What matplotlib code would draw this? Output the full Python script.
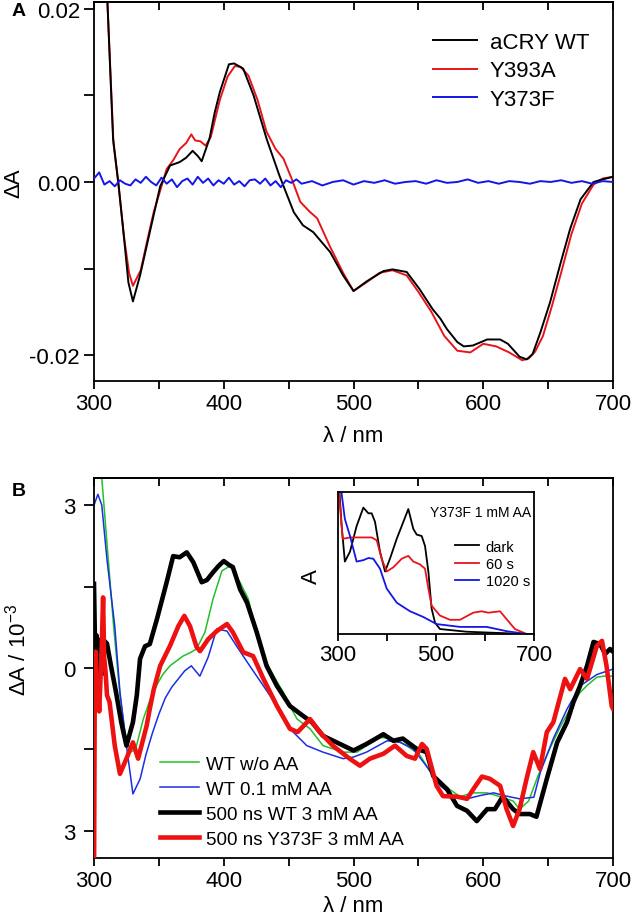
import numpy as np
import matplotlib
matplotlib.use("Agg")
import matplotlib.pyplot as plt

plt.rcParams["font.family"] = ["Liberation Sans", "DejaVu Sans"]
plt.rcParams["mathtext.fontset"] = "custom"
plt.rcParams["mathtext.rm"] = "Liberation Sans"

# ---------------- panel A data ----------------
a_wt_nm = [300, 305, 310, 314.7, 318.7, 322.7, 326.5, 330, 335.5, 340.6, 343, 351, 358.6, 366, 371,
           376, 380, 383, 389, 393, 397, 404, 408, 415, 423, 433, 443, 454, 461, 469, 482, 492, 500,
           510, 523, 530, 541, 551, 561, 567, 572, 580, 585, 592, 603, 613, 619, 628, 633.5, 638, 644,
           651.5, 659, 667, 675, 685, 692, 700]
a_wt_val = [0.05, 0.036, 0.022, 0.005, 0.0, -0.0058, -0.0116, -0.0138, -0.0108, -0.0074, -0.0058,
            -0.0005, 0.0019, 0.0023, 0.0028, 0.0036, 0.003, 0.0024, 0.005, 0.008, 0.0104, 0.0136,
            0.0137, 0.0131, 0.0100, 0.005, 0.0007, -0.0035, -0.005, -0.0058, -0.0081, -0.0108,
            -0.0126, -0.0115, -0.0103, -0.0101, -0.0104, -0.0124, -0.0147, -0.0158, -0.017, -0.0185,
            -0.019, -0.0189, -0.0182, -0.0182, -0.0187, -0.0202, -0.0205, -0.0199, -0.0174, -0.0139,
            -0.0097, -0.0054, -0.002, 0.0, 0.0003, 0.0006]

a_y393a_nm = [300, 305, 310, 315, 319, 323, 327, 330, 336, 341, 346, 352, 356, 361, 366, 371, 375,
              378, 382, 386, 390, 397, 403, 408.6, 413, 419, 426, 433, 440, 446, 452, 459, 466, 472,
              482, 492, 500, 510, 520, 530, 541, 550, 560, 570, 580, 590, 600, 610, 620, 630, 635,
              640, 646, 653, 660, 668, 676, 685, 692, 700]
a_y393a_val = [0.05, 0.036, 0.022, 0.0045, -0.0005, -0.0062, -0.0105, -0.012, -0.0102, -0.0068,
               -0.0035, -0.0005, 0.0015, 0.0025, 0.0038, 0.0045, 0.0055, 0.0048, 0.0047, 0.0042,
               0.0052, 0.0095, 0.0122, 0.0134, 0.0133, 0.0123, 0.0095, 0.0058, 0.0038, 0.0027,
               0.0005, -0.0023, -0.0034, -0.0042, -0.0075, -0.0105, -0.0126, -0.0116, -0.0105,
               -0.0102, -0.0108, -0.0127, -0.015, -0.0178, -0.0195, -0.0197, -0.0187, -0.019,
               -0.0197, -0.0206, -0.0204, -0.0196, -0.0178, -0.0143, -0.0105, -0.006, -0.0025,
               -0.0003, 0.0004, 0.0006]

a_y373f_nm = list(range(300, 460, 4)) + list(range(460, 701, 8))
a_y373f_val = [0.0004, 0.0011, -0.0003, 0.0001, -0.0005, 0.0002, -0.0002, -0.0004, 0.0003, -0.0001,
               0.0006, 0.0000, -0.0004, 0.0005, -0.0002, 0.0003, -0.0006, 0.0001, 0.0004, -0.0003,
               0.0006, -0.0001, 0.0004, -0.0004, 0.0002, -0.0002, 0.0005, -0.0003, 0.0001, -0.0005,
               0.0002, 0.0003, -0.0002, 0.0004, -0.0004, 0.0001, -0.0006, 0.0002, -0.0001, 0.0003,
               -0.0002, 0.0001, -0.0004, 0.0000, 0.0002, -0.0003, 0.0001, -0.0001, 0.0002, -0.0002,
               0.0000, 0.0001, -0.0002, 0.0002, -0.0001, 0.0000, 0.0003, -0.0001, 0.0001, -0.0002,
               0.0001, 0.0000, -0.0002, 0.0001, 0.0000, 0.0002, -0.0001, 0.0001, -0.0002, 0.0001,
               0.0000]

# ---------------- panel B data ----------------
b_wo_nm = [300, 304, 306, 310, 315, 320, 324, 328, 332, 338, 343, 348, 353, 358.5, 363, 368.6, 374,
           379, 385.5, 391.7, 398.6, 404.8, 412.5, 419, 425.4, 430, 435.6, 441, 446, 451, 456.5,
           466.5, 476.5, 492, 502.6, 512, 520.6, 530.7, 541, 551, 561.5, 572, 582, 592, 603, 613,
           623, 628, 635, 642, 649, 659, 667, 674.6, 681, 687.6, 693, 700]
b_wo_val = [6.0, 4.3, 3.5, 2.3, 0.8, -0.5, -1.2, -1.55, -1.5, -0.94, -0.6, -0.33, -0.12, 0.04, 0.12,
            0.22, 0.28, 0.35, 0.66, 1.27, 1.79, 1.88, 1.58, 1.27, 0.59, 0.25, -0.02, -0.25, -0.45,
            -0.7, -0.94, -1.12, -1.43, -1.55, -1.55, -1.4, -1.28, -1.3, -1.43, -1.6, -2.0, -2.2,
            -2.37, -2.3, -2.3, -2.37, -2.45, -2.6, -2.45, -2.0, -1.6, -1.1, -0.75, -0.45, -0.3,
            -0.17, -0.15, -0.15]

b_01_nm = [300, 303, 306, 310, 316, 320, 325, 330, 335.6, 340, 345, 350, 355, 360, 365, 370, 375,
           381.6, 388, 394.6, 402.5, 410, 420, 430.6, 441, 451, 464, 476.5, 492, 500, 510, 526, 536,
           546, 556, 567, 577, 587.5, 597.5, 608, 618, 628, 639, 644, 654, 664.5, 674.6, 687.6, 700]
b_01_val = [3.0, 3.2, 3.0, 2.0, 0.77, -0.44, -1.43, -2.32, -2.04, -1.6, -1.2, -0.85, -0.55, -0.35,
            -0.2, -0.05, 0.04, -0.15, 0.2, 0.72, 0.68, 0.4, 0.04, -0.33, -0.7, -1.12, -1.43, -1.55,
            -1.67, -1.64, -1.55, -1.34, -1.37, -1.49, -1.8, -2.17, -2.36, -2.41, -2.35, -2.3, -2.36,
            -2.41, -2.38, -1.92, -1.3, -0.76, -0.33, -0.12, -0.02]

b_wt3_nm = [300, 301, 302, 303, 304, 305, 306, 307, 308, 310, 313, 317, 321, 325, 330, 333, 335.5,
            339.3, 343, 348.5, 356, 361, 366, 371.5, 376.5, 383, 387, 392, 396, 400, 404, 407,
            412.6, 418, 425.4, 433, 441, 451, 461, 468, 476.5, 489.6, 500, 510, 523, 530.7, 538,
            548.7, 556.4, 561.5, 572, 579.8, 587.5, 595, 603, 609, 615, 623, 628, 636, 641, 649,
            657, 664.5, 669.5, 674.6, 680, 685, 690, 694, 697.7, 700]
b_wt3_val = [1.55, 0.1, 0.6, -0.3, 0.5, 0.1, 0.55, -0.1, 0.5, 0.45, 0.05, -0.45, -1.0, -1.43, -1.0,
             -0.5, 0.17, 0.4, 0.44, 0.9, 1.58, 2.06, 2.04, 2.13, 1.95, 1.58, 1.62, 1.77, 1.88, 1.97,
             1.9, 1.86, 1.45, 1.2, 0.66, 0.04, -0.33, -0.7, -0.88, -1.0, -1.25, -1.4, -1.52, -1.4,
             -1.22, -1.34, -1.3, -1.49, -1.55, -1.99, -2.23, -2.54, -2.63, -2.82, -2.6, -2.6, -2.37,
             -2.6, -2.69, -2.69, -2.74, -2.04, -1.37, -1.0, -0.63, -0.33, 0.04, 0.48, 0.44, 0.26,
             0.35, 0.3]

b_y373f_nm = [300, 300.6, 301.3, 302, 303, 304, 305, 306, 307, 307.8, 309, 310, 312, 316, 320, 325,
              330, 334, 340.6, 343, 346, 351, 358.6, 365, 369.6, 374, 379, 381.7, 388, 394.6, 402.5,
              407, 415, 422.6, 430.6, 441, 451, 457, 466.5, 474, 484, 497, 505, 512.7, 523, 532,
              541, 547.4, 552.8, 556.4, 564, 569, 579.8, 587.5, 592.4, 599, 605, 613, 618, 623, 628,
              633.4, 638.5, 643.7, 649, 654, 663, 667, 674.6, 680, 687.6, 691.5, 695, 699, 700]
b_y373f_val = [-4.0, -0.2, 0.3, -0.6, -0.3, -0.8, -0.2, 0.4, 1.3, 0.2, -0.1, -0.5, -0.63, -1.43,
               -1.95, -1.67, -1.37, -1.67, -1.06, -0.75, -0.4, 0.04, 0.41, 0.77, 0.96, 0.77, 0.39,
               0.31, 0.53, 0.68, 0.81, 0.66, 0.29, 0.22, -0.2, -0.7, -1.12, -1.18, -0.94, -1.18,
               -1.43, -1.67, -1.8, -1.67, -1.58, -1.43, -1.62, -1.67, -1.4, -1.49, -2.17, -2.36,
               -2.37, -2.41, -2.23, -2.0, -2.04, -2.17, -2.6, -2.91, -2.6, -2.04, -1.55, -1.86, -1.18,
               -1.0, -0.2, -0.39, -0.02, -0.2, 0.41, 0.5, 0.04, -0.7, -0.75]

# ---------------- inset data ----------------
i_dark_nm = [300, 303, 307.5, 314, 324.5, 338, 351.7, 362, 368.7, 375.5, 385.7, 396, 406, 419.8,
             430, 443.5, 453.7, 460.6, 470.8, 477.6, 484.4, 491, 498, 508, 562.7, 630.6, 685, 700]
i_dark_val = [1.3, 1.0, 0.76, 0.51, 0.58, 0.76, 0.89, 0.85, 0.85, 0.79, 0.58, 0.44, 0.53, 0.67,
              0.76, 0.88, 0.74, 0.70, 0.69, 0.62, 0.44, 0.18, 0.08, 0.035, 0.016, 0.007, 0.0, 0.0]

i_60_nm = [300, 303, 309.5, 324.5, 351.7, 368.7, 379, 389, 399.4, 413, 430, 443.5, 453.7, 467.3,
           477.6, 484.4, 491, 508, 528.6, 549, 576, 593, 606.8, 630.6, 644, 661, 685, 700]
i_60_val = [1.3, 0.95, 0.67, 0.68, 0.68, 0.68, 0.66, 0.53, 0.44, 0.47, 0.53, 0.55, 0.51, 0.49,
            0.46, 0.32, 0.2, 0.13, 0.10, 0.10, 0.15, 0.16, 0.15, 0.16, 0.105, 0.035, 0.0, 0.0]

i_1020_nm = [300, 307, 314, 324.5, 338, 351.7, 362, 372, 385.7, 399.4, 420, 447, 474, 501, 549,
             603.5, 644, 685, 700]
i_1020_val = [1.3, 1.0, 0.81, 0.69, 0.51, 0.52, 0.535, 0.53, 0.46, 0.32, 0.22, 0.16, 0.12, 0.07,
              0.05, 0.05, 0.02, 0.0, 0.0]

x_ticks = list(range(300, 701, 50))
x_labels = [str(v) if v % 100 == 0 else "" for v in x_ticks]

fig = plt.figure(figsize=(6.33, 9.2), dpi=100)
W, H = 633, 920
axA = fig.add_axes([94 / W, 1 - 382 / H, 519 / W, 379 / H])
axB = fig.add_axes([94 / W, 1 - 859 / H, 519 / W, 380 / H])


def style_main(ax, ypad, xlab_y):
    for s in ax.spines.values():
        s.set_linewidth(1.3)
    ax.set_xlim(300, 700)
    ax.set_xticks(x_ticks)
    ax.set_xticklabels(x_labels)
    ax.tick_params(axis="x", direction="out", length=6, width=1.3, labelsize=16, pad=3, top=False)
    ax.tick_params(axis="y", direction="out", length=7, width=1.3, labelsize=16, pad=ypad, right=False)
    top = ax.secondary_xaxis("top")
    top.set_xticks(x_ticks)
    top.tick_params(direction="in", length=6, width=1.3, labeltop=False)
    top.spines["top"].set_linewidth(1.3)
    ax.set_xlabel("λ / nm", fontsize=16)
    ax.xaxis.set_label_coords(0.5, xlab_y)


# panel A
axA.plot(a_wt_nm, a_wt_val, color="black", lw=1.4, label="aCRY WT", zorder=3)
axA.plot(a_y393a_nm, a_y393a_val, color="#e8141c", lw=1.4, label="Y393A", zorder=2)
axA.plot(a_y373f_nm, a_y373f_val, color="#1515e8", lw=1.4, label="Y373F", zorder=4)
style_main(axA, 3, -0.115)
axA.set_ylim(-0.0230, 0.0208)
axA.set_yticks([-0.02, -0.01, 0.0, 0.01, 0.02])
axA.set_yticklabels(["-0.02", "", "0.00", "", "0.02"])
axA.set_ylabel("ΔA", fontsize=16)
axA.yaxis.set_label_coords(-0.135, 0.525)
axA.legend(loc="upper left", bbox_to_anchor=(0.653, 0.922), frameon=False, fontsize=16,
           handlelength=2.0, handletextpad=0.55, labelspacing=0.35, borderpad=0, borderaxespad=0)
fig.text(12 / W, 1 - 12 / H, "A", fontsize=14, fontweight="bold", ha="left", va="center")

# panel B
axB.plot(b_wo_nm, b_wo_val, color="#22c02a", lw=1.1, label="WT w/o AA", zorder=2)
axB.plot(b_01_nm, b_01_val, color="#1a2fe0", lw=1.1, label="WT 0.1 mM AA", zorder=2)
axB.plot(b_wt3_nm, b_wt3_val, color="black", lw=3.3, label="500 ns WT 3 mM AA", zorder=3)
axB.plot(b_y373f_nm, b_y373f_val, color="#ee1111", lw=3.3, label="500 ns Y373F 3 mM AA", zorder=3)
style_main(axB, 6, -0.097)
axB.set_ylim(-3.5, 3.5)
axB.set_yticks([-3, -1.5, 0, 1.5, 3])
axB.set_yticklabels(["3", "", "0", "", "3"])
axB.set_ylabel("ΔA / 10$^{\\mathregular{-3}}$", fontsize=16)
axB.yaxis.set_label_coords(-0.122, 0.55)
axB.legend(loc="upper left", bbox_to_anchor=(0.127, 0.27), frameon=False, fontsize=13.5,
           handlelength=2.1, handletextpad=0.35, labelspacing=0.42, borderpad=0, borderaxespad=0)
fig.text(12 / W, 1 - 492 / H, "B", fontsize=14, fontweight="bold", ha="left", va="center")

# inset
axI = fig.add_axes([338 / W, 1 - 635 / H, 196 / W, 142 / H])
axI.plot(i_dark_nm, i_dark_val, color="black", lw=1.3, label="dark")
axI.plot(i_60_nm, i_60_val, color="#e8141c", lw=1.3, label="60 s")
axI.plot(i_1020_nm, i_1020_val, color="#1515e8", lw=1.3, label="1020 s")
for s in axI.spines.values():
    s.set_linewidth(1.3)
axI.set_xlim(300, 700)
axI.set_ylim(0, 1)
axI.set_xticks([300, 400, 500, 600, 700])
axI.set_xticklabels(["300", "", "500", "", "700"])
axI.set_yticks([])
axI.tick_params(axis="x", direction="out", length=5, width=1.3, labelsize=16, pad=2)
axI.set_ylabel("A", fontsize=16)
axI.yaxis.set_label_coords(-0.08, 0.41)
axI.text(0.985, 0.86, "Y373F 1 mM AA", transform=axI.transAxes, fontsize=10, ha="right", va="center")
axI.legend(loc="upper left", bbox_to_anchor=(0.597, 0.665), frameon=False, fontsize=10.5,
           handlelength=1.65, handletextpad=0.45, labelspacing=0.22, borderpad=0, borderaxespad=0)

fig.savefig("out.png", dpi=100)
